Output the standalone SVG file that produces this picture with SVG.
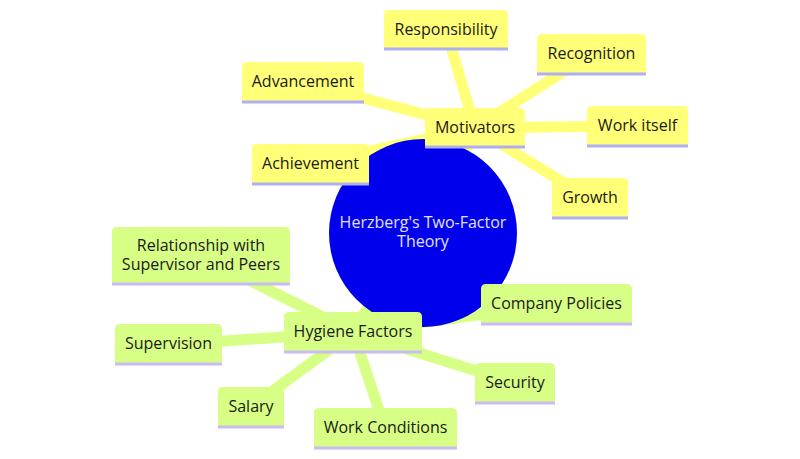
<svg xmlns="http://www.w3.org/2000/svg" width="800" height="459" viewBox="0 0 800 459">
<style>
  .ey { stroke: #ffff78; fill: none; }
  .eg { stroke: #d7ff86; fill: none; }
  .d0 { stroke-width: 14; }
  .d1 { stroke-width: 11; }
  .ny path { fill: #ffff78; }
  .ng path { fill: #d7ff86; }
  .ny line { stroke: #aeaef2; stroke-width: 3; }
  .ng line { stroke: #cbbaf6; stroke-width: 3; }
  text { font-family: "Open Sans", "Noto Sans", "DejaVu Sans", sans-serif; font-size: 16px; text-anchor: middle; fill: #1a1a1a; }
  .root circle { fill: #0000ec; }
  .root text { fill: #e0e0ff; }
</style>
<g id="connectors">
  <line class="ey d0" x1="423" y1="233" x2="475" y2="128"/>
  <line class="eg d0" x1="423" y1="233" x2="353" y2="332"/>
  <line class="ey d1" x1="475" y1="128" x2="446" y2="30"/>
  <line class="ey d1" x1="475" y1="128" x2="591" y2="54"/>
  <line class="ey d1" x1="475" y1="128" x2="303" y2="82"/>
  <line class="ey d1" x1="475" y1="128" x2="637" y2="126"/>
  <line class="ey d1" x1="475" y1="128" x2="310" y2="164"/>
  <line class="ey d1" x1="475" y1="128" x2="590" y2="199"/>
  <line class="eg d1" x1="353" y1="332" x2="201" y2="256"/>
  <line class="eg d1" x1="353" y1="332" x2="168" y2="345"/>
  <line class="eg d1" x1="353" y1="332" x2="251" y2="407"/>
  <line class="eg d1" x1="353" y1="332" x2="385" y2="428"/>
  <line class="eg d1" x1="353" y1="332" x2="515" y2="383"/>
  <line class="eg d1" x1="353" y1="332" x2="556" y2="304"/>
</g>
<g id="root" class="root">
  <circle cx="423" cy="233" r="94"/>
  <text x="423" y="228">Herzberg's Two-Factor</text>
  <text x="423" y="247">Theory</text>
</g>
<g id="motivators" class="ny">
  <path d="M425,148 V113 Q425,108 430,108 H520 Q525,108 525,113 V148 Z"/>
  <line x1="425" y1="147" x2="525" y2="147"/>
  <text x="475" y="133">Motivators</text>
</g>
<g id="responsibility" class="ny">
  <path d="M384,50 V15 Q384,10 389,10 H503 Q508,10 508,15 V50 Z"/>
  <line x1="384" y1="49" x2="508" y2="49"/>
  <text x="446" y="35">Responsibility</text>
</g>
<g id="recognition" class="ny">
  <path d="M537,75 V39 Q537,34 542,34 H641 Q646,34 646,39 V75 Z"/>
  <line x1="537" y1="74" x2="646" y2="74"/>
  <text x="591.5" y="59">Recognition</text>
</g>
<g id="advancement" class="ny">
  <path d="M242,103 V67 Q242,62 247,62 H359 Q364,62 364,67 V103 Z"/>
  <line x1="242" y1="102" x2="364" y2="102"/>
  <text x="303" y="87">Advancement</text>
</g>
<g id="work-itself" class="ny">
  <path d="M587,147 V111 Q587,106 592,106 H683 Q688,106 688,111 V147 Z"/>
  <line x1="587" y1="146" x2="688" y2="146"/>
  <text x="637.5" y="131">Work itself</text>
</g>
<g id="achievement" class="ny">
  <path d="M252,185 V149 Q252,144 257,144 H364 Q369,144 369,149 V185 Z"/>
  <line x1="252" y1="184" x2="369" y2="184"/>
  <text x="310.5" y="169">Achievement</text>
</g>
<g id="growth" class="ny">
  <path d="M552,219 V183 Q552,178 557,178 H623 Q628,178 628,183 V219 Z"/>
  <line x1="552" y1="218" x2="628" y2="218"/>
  <text x="590" y="203">Growth</text>
</g>
<g id="hygiene" class="ng">
  <path d="M284,353 V317 Q284,312 289,312 H417 Q422,312 422,317 V353 Z"/>
  <line x1="284" y1="352" x2="422" y2="352"/>
  <text x="353" y="337">Hygiene Factors</text>
</g>
<g id="relationship" class="ng">
  <path d="M112,285 V232 Q112,227 117,227 H285 Q290,227 290,232 V285 Z"/>
  <line x1="112" y1="284" x2="290" y2="284"/>
  <text x="201" y="251">Relationship with</text>
  <text x="201" y="270">Supervisor and Peers</text>
</g>
<g id="supervision" class="ng">
  <path d="M115,365 V329 Q115,324 120,324 H217 Q222,324 222,329 V365 Z"/>
  <line x1="115" y1="364" x2="222" y2="364"/>
  <text x="168.5" y="349">Supervision</text>
</g>
<g id="company-policies" class="ng">
  <path d="M481,325 V289 Q481,284 486,284 H627 Q632,284 632,289 V325 Z"/>
  <line x1="481" y1="324" x2="632" y2="324"/>
  <text x="556.5" y="309">Company Policies</text>
</g>
<g id="security" class="ng">
  <path d="M475,404 V368 Q475,363 480,363 H550 Q555,363 555,368 V404 Z"/>
  <line x1="475" y1="403" x2="555" y2="403"/>
  <text x="515" y="388">Security</text>
</g>
<g id="salary" class="ng">
  <path d="M218,428 V392 Q218,387 223,387 H279 Q284,387 284,392 V428 Z"/>
  <line x1="218" y1="427" x2="284" y2="427"/>
  <text x="251" y="412">Salary</text>
</g>
<g id="work-conditions" class="ng">
  <path d="M314,449 V413 Q314,408 319,408 H452 Q457,408 457,413 V449 Z"/>
  <line x1="314" y1="448" x2="457" y2="448"/>
  <text x="385.5" y="433">Work Conditions</text>
</g>
</svg>
